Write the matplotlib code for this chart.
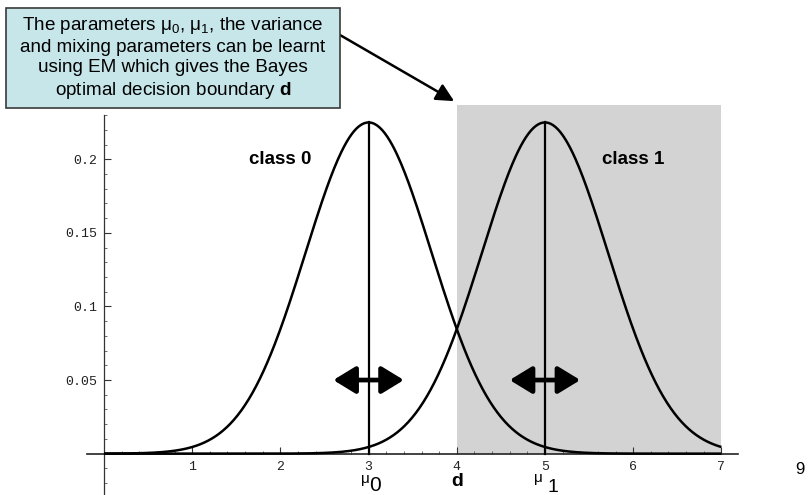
import matplotlib
matplotlib.use('Agg')
import matplotlib.pyplot as plt
from matplotlib.patches import Rectangle
import numpy as np

plt.rcParams['font.family'] = ['Liberation Sans', 'DejaVu Sans']
plt.rcParams['mathtext.fontset'] = 'custom'
plt.rcParams['mathtext.rm'] = 'Liberation Sans'
plt.rcParams['mathtext.bf'] = 'Liberation Sans:bold'
plt.rcParams['mathtext.default'] = 'regular'

# two equal-variance gaussian classes
means = [3.0, 5.0]
peak = 0.225
sigma = 0.715
boundary = 4.0
x_range = [0.0, 7.0]
shade_top = 0.237
class_names = ["class 0", "class 1"]
class_label_pos = [(2.0, 0.2), (6.0, 0.2)]
arrow_y = 0.05
arrow_half = 0.4

ytick_vals = [0.05, 0.1, 0.15, 0.2]
ytick_labels = ["0.05", "0.1", "0.15", "0.2"]
xtick_vals = [1, 2, 3, 4, 5, 6, 7]
xtick_labels = ["1", "2", "3", "4", "5", "6", "7"]

note = ("The parameters \u03bc$_0$, \u03bc$_1$, the variance\n"
        "and mixing parameters can be learnt\n"
        "using EM which gives the Bayes\n"
        "optimal decision boundary $\\mathbf{d}$")

W, H = 808, 495
fig = plt.figure(figsize=(W / 100, H / 100), dpi=100)
ax = fig.add_axes([0, 0, 1, 1])
ax.set_xlim(-1.179, 7.982)
ax.set_ylim(-0.0281, 0.3082)

# shaded decision region for class 1
ax.add_patch(Rectangle((boundary, 0), x_range[1] - boundary, shade_top,
                       facecolor="#d3d3d3", edgecolor="none", zorder=0))

xs = np.linspace(x_range[0], x_range[1], 500)
for mu in means:
    ys = peak * np.exp(-(xs - mu) ** 2 / (2 * sigma ** 2))
    ax.plot(xs, ys, color="black", lw=1.8, zorder=3, solid_capstyle="butt")
    ax.plot([mu, mu], [0, peak], color="black", lw=1.6, zorder=3)
    ax.annotate("", xy=(mu + arrow_half, arrow_y), xytext=(mu - arrow_half, arrow_y),
                arrowprops=dict(arrowstyle="<|-|>,head_length=0.9,head_width=0.55",
                                lw=3.4, color="black", mutation_scale=15,
                                shrinkA=0, shrinkB=0),
                zorder=4)

for name, (cx, cy) in zip(class_names, class_label_pos):
    ax.text(cx, cy, name, ha="center", va="center", fontsize=13.5,
            fontweight="bold", zorder=5)

# axes through the origin, Mathematica style
for s in ["top", "right"]:
    ax.spines[s].set_visible(False)
ax.spines["left"].set_position(("data", 0))
ax.spines["bottom"].set_position(("data", 0))
ax.spines["left"].set_bounds(-0.03, 0.23)
ax.spines["bottom"].set_bounds(-0.19, 7.19)
ax.spines["left"].set_linewidth(0.9)
ax.spines["bottom"].set_linewidth(1.2)
ax.spines["left"].set_color("#333333")
ax.spines["bottom"].set_color("#222222")

ax.set_xticks(xtick_vals)
ax.set_xticklabels(xtick_labels)
ax.set_yticks(ytick_vals)
ax.set_yticklabels(ytick_labels)
ax.set_xticks(np.arange(0.2, 7.01, 0.2), minor=True)
ax.set_yticks(np.arange(-0.02, 0.231, 0.01), minor=True)
ax.tick_params(which="major", direction="in", length=5, width=0.8, color="#333333",
               labelsize=9.5, pad=5)
ax.tick_params(which="minor", direction="in", length=2.5, width=0.6, color="#555555")
for lab in ax.get_xticklabels() + ax.get_yticklabels():
    lab.set_family("Liberation Mono")
    lab.set_color("#222222")

# parameter labels under the axis
ax.text(2.96, -0.0172, "\u03bc", ha="center", va="center", fontsize=11)
ax.text(3.07, -0.0215, "0", ha="center", va="center", fontsize=15)
ax.text(4.0, -0.0186, "d", ha="center", va="center", fontsize=14, fontweight="bold")
ax.text(4.93, -0.0165, "\u03bc", ha="center", va="center", fontsize=11)
ax.text(5.09, -0.0228, "1", ha="center", va="center", fontsize=14)

# callout box
bx0, by0, bx1, by1 = 6, 8, 340, 108
fig.patches.append(Rectangle((bx0 / W, 1 - by1 / H), (bx1 - bx0) / W, (by1 - by0) / H,
                             transform=fig.transFigure, facecolor="#c6e6ea",
                             edgecolor="#3a3a3a", lw=1.2, zorder=5))
fig.text((bx0 + bx1) / 2 / W, 1 - (by0 + by1) / 2 / H, note, ha="center", va="center",
         fontsize=13.6, linespacing=1.25, zorder=6)
ax.annotate("", xy=(3.97, 0.2395), xycoords="data",
            xytext=(bx1 / W, 1 - 35 / H), textcoords="figure fraction",
            arrowprops=dict(arrowstyle="-|>,head_length=0.9,head_width=0.45",
                            lw=1.8, color="black", mutation_scale=12,
                            shrinkA=0, shrinkB=0))

fig.text(800 / W, 1 - 470 / H, "9", ha="center", va="center", fontsize=12)

fig.savefig("out.png", dpi=100, facecolor="white")
